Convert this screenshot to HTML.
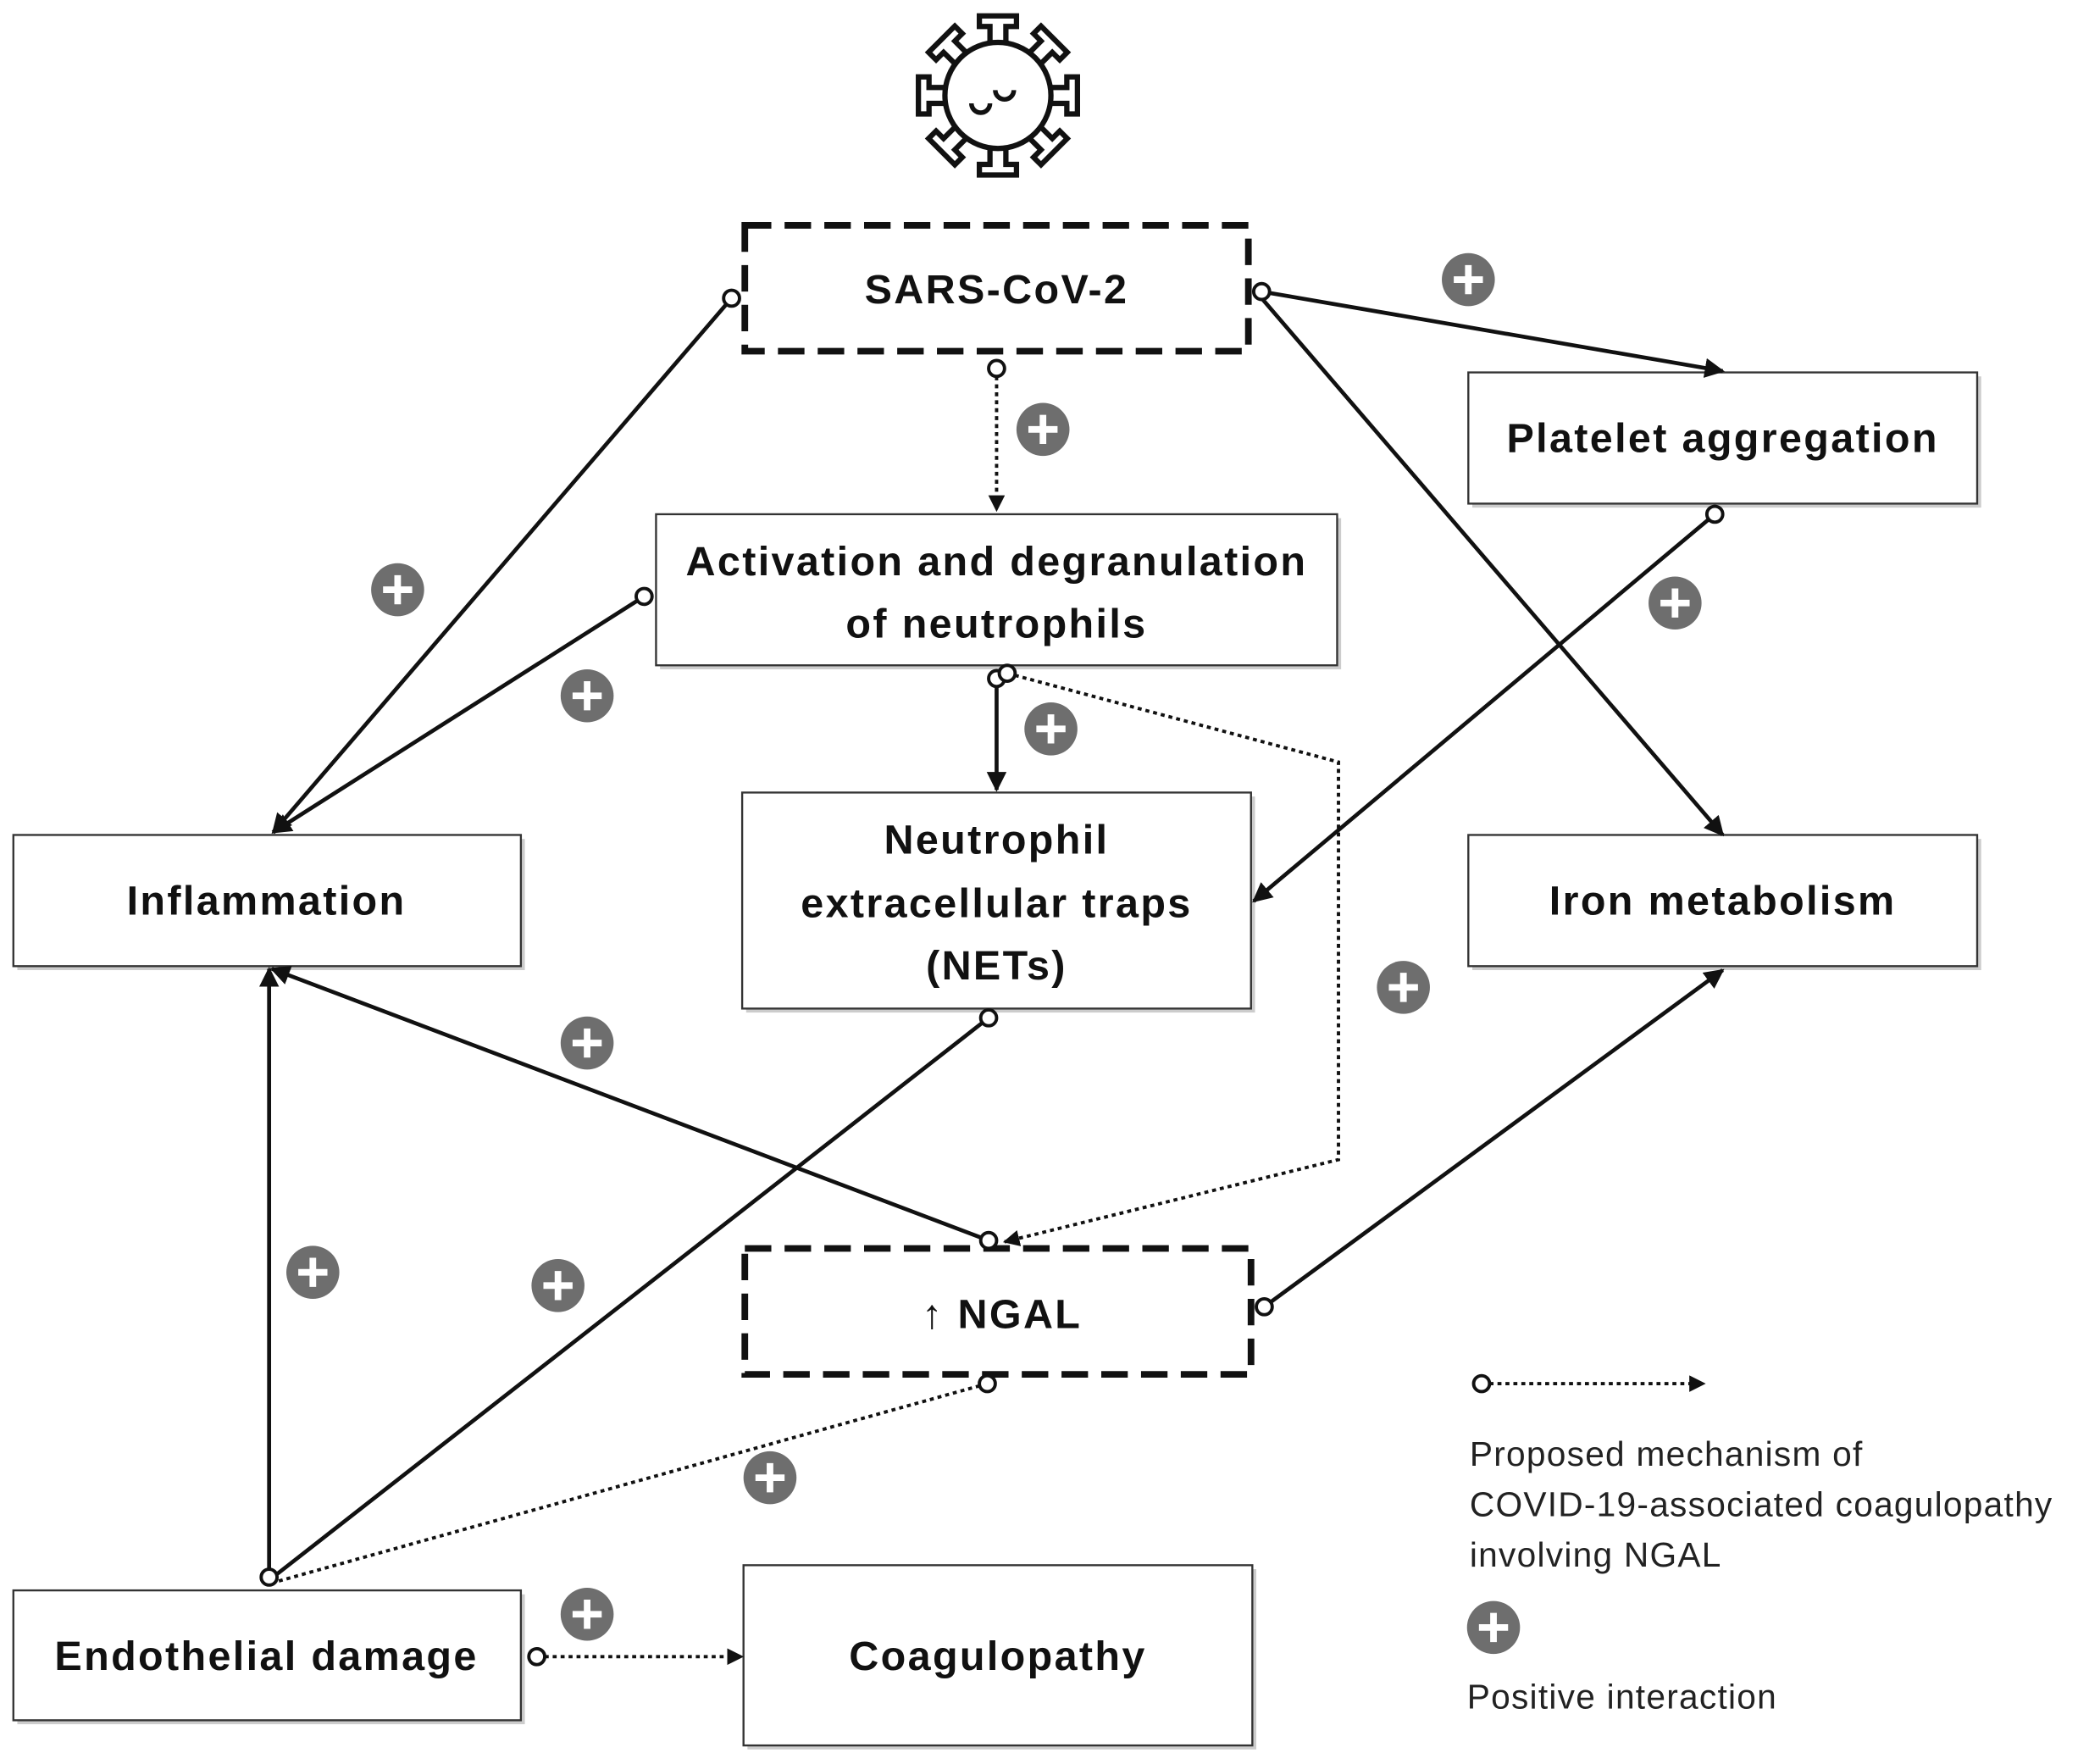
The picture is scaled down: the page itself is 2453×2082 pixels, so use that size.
<!DOCTYPE html>
<html><head><meta charset="utf-8"><style>
html,body{margin:0;padding:0;background:#fff}
svg{display:block}
text{font-family:"Liberation Sans",sans-serif}
.b{font-weight:bold;font-size:31px;letter-spacing:1.5px;text-anchor:middle;fill:#111}
.l{font-size:26px;letter-spacing:0.8px;fill:#222}
.bx{fill:#fff;stroke:#333;stroke-width:1.5}
.dbx{fill:#fff;stroke:#111;stroke-width:5;stroke-dasharray:20 10}
.c{stroke:#111;stroke-width:3;fill:none}
.d{stroke:#111;stroke-width:2.5;fill:none;stroke-dasharray:3 3}
.o{fill:#fff;stroke:#111;stroke-width:2.5}
</style></head><body>
<svg width="2453" height="2082" viewBox="0 0 1568 1331" xmlns="http://www.w3.org/2000/svg">
<defs>
<marker id="a" viewBox="0 0 10 10" refX="9" refY="5" markerWidth="5" markerHeight="5" orient="auto"><path d="M0,0L10,5L0,10z" fill="#111"/></marker>
<g id="p"><circle r="20" fill="#6e6e6e"/><path d="M-11,0H11M0,-11V11" stroke="#fff" stroke-width="5"/></g>
</defs>
<g transform="translate(753,72)" stroke="#111" stroke-width="4" fill="none">
<circle r="40" fill="#fff"/>
<g id="s"><path d="M-6,-40V-52H-14V-60H14V-52H6V-40"/></g>
<use href="#s" transform="rotate(45)"/><use href="#s" transform="rotate(90)"/><use href="#s" transform="rotate(135)"/>
<use href="#s" transform="rotate(180)"/><use href="#s" transform="rotate(225)"/><use href="#s" transform="rotate(270)"/><use href="#s" transform="rotate(315)"/>
<path d="M-2,-4a7,7 0 0 0 14,0M-20,6a7,7 0 0 0 14,0" stroke-width="3.5"/>
</g>
<g fill="#ccc">
<rect x="1111" y="284" width="384" height="99"/><rect x="498" y="391" width="514" height="114"/>
<rect x="13" y="633" width="383" height="99"/><rect x="563" y="601" width="384" height="163"/>
<rect x="1111" y="633" width="384" height="99"/><rect x="13" y="1203" width="383" height="98"/>
<rect x="564" y="1184" width="384" height="136"/>
</g>
<rect class="dbx" x="562" y="170" width="380" height="95"/>
<rect class="bx" x="1108" y="281" width="384" height="99"/>
<rect class="bx" x="495" y="388" width="514" height="114"/>
<rect class="bx" x="10" y="630" width="383" height="99"/>
<rect class="bx" x="560" y="598" width="384" height="163"/>
<rect class="bx" x="1108" y="630" width="384" height="99"/>
<rect class="dbx" x="562" y="942" width="382" height="95"/>
<rect class="bx" x="10" y="1200" width="383" height="98"/>
<rect class="bx" x="561" y="1181" width="384" height="136"/>
<text class="b" x="752" y="229">SARS-CoV-2</text>
<text class="b" x="1300" y="341">Platelet aggregation</text>
<text class="b" x="752" y="434">Activation and degranulation</text>
<text class="b" x="752" y="481">of neutrophils</text>
<text class="b" x="201" y="690">Inflammation</text>
<text class="b" x="752" y="644">Neutrophil</text>
<text class="b" x="752" y="692">extracellular traps</text>
<text class="b" x="752" y="739">(NETs)</text>
<text class="b" x="1300" y="690">Iron metabolism</text>
<text class="b" x="756" y="1002">↑ NGAL</text>
<text class="b" x="201" y="1260">Endothelial damage</text>
<text class="b" x="753" y="1260">Coagulopathy</text>
<line class="c" x1="552" y1="225" x2="206" y2="628" marker-end="url(#a)"/>
<line class="c" x1="486" y1="450" x2="206" y2="628" marker-end="url(#a)"/>
<line class="d" x1="752" y1="278" x2="752" y2="385" marker-end="url(#a)"/>
<line class="c" x1="952" y1="220" x2="1300" y2="280" marker-end="url(#a)"/>
<line class="c" x1="952" y1="225" x2="1300" y2="630" marker-end="url(#a)"/>
<line class="c" x1="1294" y1="388" x2="946" y2="680" marker-end="url(#a)"/>
<line class="c" x1="752" y1="512" x2="752" y2="596" marker-end="url(#a)"/>
<polyline class="d" points="760,508 1010,575 1010,875 758,937" marker-end="url(#a)"/>
<line class="c" x1="746" y1="936" x2="205" y2="731" marker-end="url(#a)"/>
<line class="c" x1="746" y1="768" x2="206" y2="1190"/>
<line class="c" x1="954" y1="986" x2="1300" y2="732" marker-end="url(#a)"/>
<line class="c" x1="203" y1="1190" x2="203" y2="731" marker-end="url(#a)"/>
<line class="d" x1="745" y1="1044" x2="210" y2="1193"/>
<line class="d" x1="405" y1="1250" x2="560" y2="1250" marker-end="url(#a)"/>
<line class="d" x1="1118" y1="1044" x2="1286" y2="1044" marker-end="url(#a)"/>
<g class="o">
<circle cx="552" cy="225" r="6"/><circle cx="486" cy="450" r="6"/><circle cx="752" cy="278" r="6"/>
<circle cx="952" cy="220" r="6"/><circle cx="1294" cy="388" r="6"/><circle cx="752" cy="512" r="6"/>
<circle cx="760" cy="508" r="6"/><circle cx="746" cy="936" r="6"/><circle cx="746" cy="768" r="6"/>
<circle cx="954" cy="986" r="6"/><circle cx="203" cy="1190" r="6"/><circle cx="745" cy="1044" r="6"/>
<circle cx="405" cy="1250" r="6"/><circle cx="1118" cy="1044" r="6"/>
</g>
<use href="#p" x="1108" y="211"/><use href="#p" x="787" y="324"/><use href="#p" x="300" y="445"/>
<use href="#p" x="443" y="525"/><use href="#p" x="1264" y="455"/><use href="#p" x="793" y="550"/>
<use href="#p" x="1059" y="745"/><use href="#p" x="443" y="787"/><use href="#p" x="236" y="960"/>
<use href="#p" x="421" y="970"/><use href="#p" x="581" y="1115"/><use href="#p" x="443" y="1218"/>
<use href="#p" x="1127" y="1228"/>
<text class="l" x="1109" y="1106">Proposed mechanism of</text>
<text class="l" x="1109" y="1144">COVID-19-associated coagulopathy</text>
<text class="l" x="1109" y="1182">involving NGAL</text>
<text class="l" x="1107" y="1289">Positive interaction</text>
</svg>
</body></html>
